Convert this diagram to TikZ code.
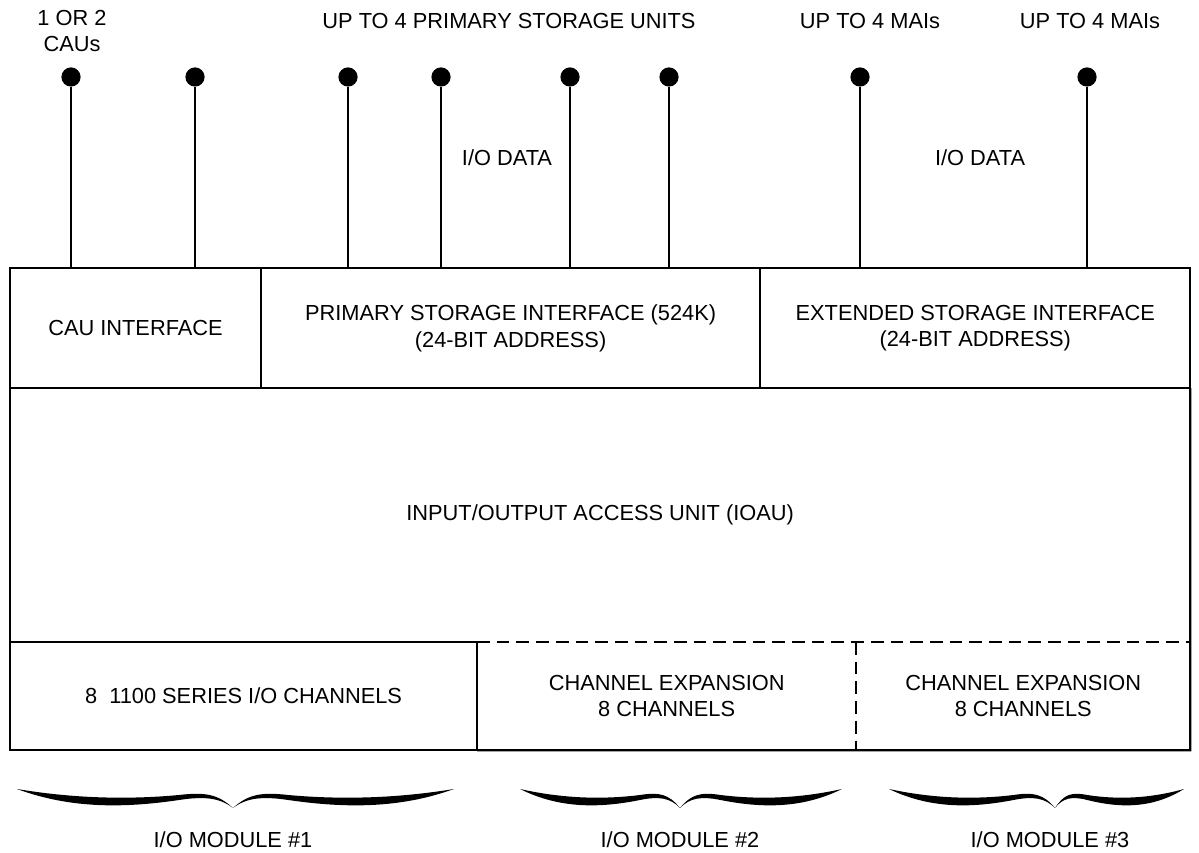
\documentclass[tikz,border=0pt]{standalone}
\usepackage{fontspec}
\setmainfont{Liberation Sans}
\usetikzlibrary{positioning}

% left x, tip x, right x, top y (in pixel units of the picture)
\newcommand{\curlybrace}[4]{%
  \pgfmathsetmacro{\bw}{#2-#1}\pgfmathsetmacro{\cw}{#3-#2}%
  \fill (#1,#4) .. controls ({#1+.25*\bw},{#4+20}) and ({#1+.5*\bw},{#4+19}) .. ({#1+.75*\bw},{#4+11})
    .. controls ({#1+.87*\bw},{#4+7}) and ({#2-.06*\bw},{#4+9}) .. (#2,{#4+19})
    .. controls ({#2-.07*\bw},{#4+5}) and ({#1+.87*\bw},{#4+3}) .. ({#1+.75*\bw},{#4+6})
    .. controls ({#1+.5*\bw},{#4+11}) and ({#1+.25*\bw},{#4+9}) .. cycle;
  \fill (#3,#4) .. controls ({#3-.25*\cw},{#4+20}) and ({#3-.5*\cw},{#4+19}) .. ({#3-.75*\cw},{#4+11})
    .. controls ({#3-.87*\cw},{#4+7}) and ({#2+.06*\cw},{#4+9}) .. (#2,{#4+19})
    .. controls ({#2+.07*\cw},{#4+5}) and ({#3-.87*\cw},{#4+3}) .. ({#3-.75*\cw},{#4+6})
    .. controls ({#3-.5*\cw},{#4+11}) and ({#3-.25*\cw},{#4+9}) .. cycle;
}

\begin{document}
\begin{tikzpicture}[x=0.025cm, y=-0.025cm,
    lbl/.style={font=\fontsize{15.5}{19}\selectfont, align=center, inner sep=0pt},
    cell/.style={lbl, draw, line width=1.6pt, outer sep=0pt, minimum height=3cm},
    lowcell/.style={lbl, line width=1.6pt, outer sep=0pt, minimum height=2.7cm},
    edge/.style={line width=1.6pt},
    wire/.style={line width=1.2pt},
    dashedge/.style={line width=1.6pt, dash pattern=on 9pt off 5pt},
    pin/.style={circle, fill=black, inner sep=0pt, minimum size=0.48cm}
  ]
    \useasboundingbox (0,0) rectangle (1199,853);

    % interface row
    \node[cell, anchor=north west, minimum width=6.275cm] (cau) at (10,268) {CAU INTERFACE};
    \node[cell, minimum width=12.475cm, right=0pt of cau] (psi) {PRIMARY STORAGE INTERFACE (524K)\\(24-BIT ADDRESS)};
    \node[cell, minimum width=10.75cm, right=0pt of psi] (esi) {EXTENDED STORAGE INTERFACE\\(24-BIT ADDRESS)};

    % access unit
    \node[lbl, outer sep=0pt, anchor=north west, minimum width=29.5cm, minimum height=6.35cm] (ioau) at (cau.south west) {INPUT/OUTPUT ACCESS UNIT (IOAU)};

    % channel row
    \node[lowcell, draw, anchor=north west, minimum width=11.675cm] (ch1) at (ioau.south west) {8\ \ 1100 SERIES I/O CHANNELS};
    \node[lowcell, minimum width=9.475cm, right=0pt of ch1] (ch2) {CHANNEL EXPANSION\\8 CHANNELS};
    \node[lowcell, minimum width=8.35cm, right=0pt of ch2] (ch3) {CHANNEL EXPANSION\\8 CHANNELS};

    \draw[edge] (ioau.north west) -- (ioau.south west);
    \draw[edge] (ioau.north east) -- (ch3.south east) -- (ch2.south west);
    \draw[dashedge] (ch2.north west) -- (ch3.north east);
    \draw[dashedge] (ch2.north east) -- (ch2.south east);

    % pins
    \node[pin] (p1) at (71,77) {};
    \node[pin] (p2) at (195,77) {};
    \node[pin] (p3) at (348,77) {};
    \node[pin] (p4) at (441,77) {};
    \node[pin] (p5) at (570,77) {};
    \node[pin] (p6) at (669,77) {};
    \node[pin] (p7) at (860,77) {};
    \node[pin] (p8) at (1087,77) {};
    \foreach \p in {p1,p2} \draw[wire] (\p) -- (\p |- cau.north);
    \foreach \p in {p3,p4,p5,p6} \draw[wire] (\p) -- (\p |- psi.north);
    \foreach \p in {p7,p8} \draw[wire] (\p) -- (\p |- esi.north);

    % labels
    \node[lbl] (caus) at (72,31) {1 OR 2\\CAUs};
    \node[lbl] (psu) at (509,21) {UP TO 4 PRIMARY STORAGE UNITS};
    \node[lbl] (mai1) at (870,21) {UP TO 4 MAIs};
    \node[lbl] (mai2) at (1090,21) {UP TO 4 MAIs};
    \node[lbl] (data1) at (507,158) {I/O DATA};
    \node[lbl] (data2) at (980,158) {I/O DATA};

    % modules
    \curlybrace{17}{233}{454}{789}
    \curlybrace{520}{680}{842}{789}
    \curlybrace{889}{1055}{1184}{789}
    \node[lbl] (mod1) at (233,840) {I/O MODULE \#1};
    \node[lbl] (mod2) at (680,840) {I/O MODULE \#2};
    \node[lbl] (mod3) at (1050,840) {I/O MODULE \#3};
  \end{tikzpicture}
\end{document}
